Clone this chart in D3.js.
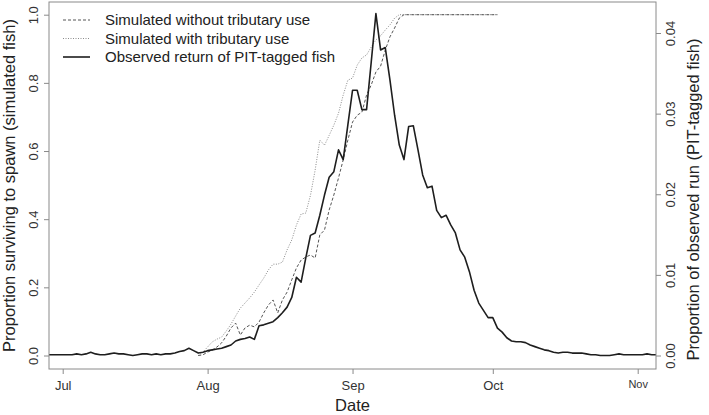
<!DOCTYPE html>
<html>
<head>
<meta charset="utf-8">
<script src="https://cdn.jsdelivr.net/npm/d3@7"></script>
<style>
    body { margin: 0; background: #fff; }
    text { font-family: "Liberation Sans", Arial, sans-serif; }
    .axis-title { font-size: 16.5px; fill: #222; }
    .tick-label { font-size: 13px; fill: #333; }
    .legend text { font-size: 15px; fill: #222; }
</style>
</head>
<body>
<div id="chart"></div>
<script>
// daily observed proportion of PIT-tagged run, Jun 28 .. Nov 5
const obsStart = Date.UTC(2013, 5, 28);
const observed = [
    0.0001, 0.0001, 0.0001, 0.0001, 0.0001, 0.0001, 0.0002, 0.0001, 0.0002,
    0.0004, 0.0002, 0.0001, 0.0001, 0.0002, 0.0003, 0.0002, 0.0002, 0.0001,
    0.0000, 0.0001, 0.0002, 0.0002, 0.0001, 0.0002, 0.0001, 0.0002, 0.0002,
    0.0003, 0.0005, 0.0006, 0.0009, 0.0006, 0.0003, 0.0004, 0.0006, 0.0007,
    0.0008, 0.0009, 0.0011, 0.0013, 0.0018, 0.0020, 0.0021, 0.0023, 0.0020,
    0.0037, 0.0038, 0.0040, 0.0042, 0.0047, 0.0053, 0.0060, 0.0072, 0.0097,
    0.0091, 0.0121, 0.0149, 0.0152, 0.0174, 0.0199, 0.0221, 0.0228, 0.0255,
    0.0243, 0.0286, 0.0329, 0.0329, 0.0305, 0.0305, 0.0364, 0.0424, 0.0379,
    0.0382, 0.0342, 0.0298, 0.0261, 0.0243, 0.0284, 0.0285, 0.0255, 0.0224,
    0.0208, 0.0210, 0.0180, 0.0171, 0.0174, 0.0162, 0.0152, 0.0131, 0.0122,
    0.0104, 0.0081, 0.0065, 0.0056, 0.0047, 0.0047, 0.0034, 0.0029, 0.0022,
    0.0018, 0.0017, 0.0017, 0.0016, 0.0013, 0.0011, 0.0009, 0.0007, 0.0006,
    0.0004, 0.0003, 0.0004, 0.0004, 0.0003, 0.0003, 0.0003, 0.0002, 0.0001,
    0.0001, 0.0000, 0.0000, 0.0000, 0.0001, 0.0002, 0.0001, 0.0001, 0.0001,
    0.0001, 0.0001, 0.0002, 0.0001, 0.0001
];

// cumulative proportion surviving to spawn, Jul 30 .. Oct 2
const simStart = Date.UTC(2013, 6, 30);
const simWithout = [
    0.000, 0.002, 0.010, 0.016, 0.025, 0.037, 0.057, 0.081, 0.095, 0.060,
    0.081, 0.089, 0.084, 0.098, 0.125, 0.148, 0.163, 0.125, 0.163, 0.186,
    0.222, 0.257, 0.280, 0.289, 0.295, 0.286, 0.354, 0.368, 0.427, 0.471,
    0.521, 0.574, 0.632, 0.685, 0.705, 0.714, 0.764, 0.794, 0.832, 0.849,
    0.896, 0.935, 0.961, 0.990, 1.000, 1.000, 1.000, 1.000, 1.000, 1.000,
    1.000, 1.000, 1.000, 1.000, 1.000, 1.000, 1.000, 1.000, 1.000, 1.000,
    1.000, 1.000, 1.000, 1.000, 1.000
];
const simWith = [
    0.000, 0.010, 0.025, 0.040, 0.048, 0.054, 0.072, 0.092, 0.116, 0.139,
    0.154, 0.169, 0.186, 0.207, 0.227, 0.251, 0.268, 0.268, 0.274, 0.310,
    0.339, 0.383, 0.415, 0.418, 0.470, 0.544, 0.632, 0.617, 0.646, 0.676,
    0.711, 0.764, 0.808, 0.814, 0.852, 0.873, 0.882, 0.905, 0.926, 0.938,
    0.955, 0.970, 0.990, 1.000, 1.000, 1.000, 1.000, 1.000, 1.000, 1.000,
    1.000, 1.000, 1.000, 1.000, 1.000, 1.000, 1.000, 1.000, 1.000, 1.000,
    1.000, 1.000, 1.000, 1.000, 1.000
];

const monthTicks = [Date.UTC(2013, 6, 1), Date.UTC(2013, 7, 1), Date.UTC(2013, 8, 1), Date.UTC(2013, 9, 1), Date.UTC(2013, 10, 1)];
const monthLabels = ["Jul", "Aug", "Sep", "Oct", "Nov"];
const leftTicks = [0, 0.2, 0.4, 0.6, 0.8, 1.0];
const rightTicks = [0, 0.01, 0.02, 0.03, 0.04];
const legendLabels = ["Simulated without tributary use", "Simulated with tributary use", "Observed return of PIT-tagged fish"];

const DAY = 86400000;
const toSeries = (start, arr) => arr.map((v, i) => ({ date: new Date(start + i * DAY), value: v }));

class ReturnChart {
    constructor(_parentElement) {
        this.parentElement = _parentElement;
        this.initVis();
    }

    initVis() {
        let vis = this;
        vis.margin = { top: 2, right: 53, bottom: 46, left: 49 };
        vis.width = 709 - vis.margin.left - vis.margin.right;
        vis.height = 415 - vis.margin.top - vis.margin.bottom;

        vis.svg = d3.select("#" + vis.parentElement).append("svg")
            .attr("width", 709)
            .attr("height", 415)
            .append("g")
            .attr("transform", "translate(" + vis.margin.left + "," + vis.margin.top + ")");

        // R-style padded scales
        vis.x = d3.scaleUtc()
            .domain([new Date(monthTicks[0]), new Date(monthTicks[4])])
            .range([13.7, 588.7]);
        vis.yLeft = d3.scaleLinear().domain([0, 1]).range([353.5, 12.7]);
        vis.yRight = d3.scaleLinear().domain([0, 0.04]).range([353.5, 31]);

        vis.svg.append("clipPath").attr("id", "plotclip")
            .append("rect").attr("width", vis.width).attr("height", vis.height);

        vis.wrangleData();
    }

    wrangleData() {
        let vis = this;
        vis.obs = toSeries(obsStart, observed);
        vis.without = toSeries(simStart, simWithout);
        vis.withTrib = toSeries(simStart, simWith);
        vis.updateVis();
    }

    updateVis() {
        let vis = this;
        const axisColor = "#8a8a8a";

        let lineLeft = d3.line().x(d => vis.x(d.date)).y(d => vis.yLeft(d.value));
        let lineRight = d3.line().x(d => vis.x(d.date)).y(d => vis.yRight(d.value));

        let plot = vis.svg.append("g").attr("clip-path", "url(#plotclip)");

        plot.append("path").datum(vis.withTrib)
            .attr("d", lineLeft)
            .attr("fill", "none")
            .attr("stroke", "#8c8c8c")
            .attr("stroke-width", 1)
            .attr("stroke-dasharray", "1,1.5");

        plot.append("path").datum(vis.without)
            .attr("d", lineLeft)
            .attr("fill", "none")
            .attr("stroke", "#555")
            .attr("stroke-width", 1)
            .attr("stroke-dasharray", "3,2");

        plot.append("path").datum(vis.obs)
            .attr("d", lineRight)
            .attr("fill", "none")
            .attr("stroke", "#1e1e1e")
            .attr("stroke-width", 1.6)
            .attr("stroke-linejoin", "round");

        // box
        vis.svg.append("rect")
            .attr("width", vis.width).attr("height", vis.height)
            .attr("fill", "none").attr("stroke", axisColor).attr("stroke-width", 1);

        // bottom axis
        let xAxis = d3.axisBottom(vis.x)
            .tickValues(monthTicks.map(t => new Date(t)))
            .tickFormat((d, i) => monthLabels[i])
            .tickSize(5).tickPadding(5);
        let gx = vis.svg.append("g")
            .attr("transform", "translate(0," + vis.height + ")")
            .call(xAxis);
        gx.select(".domain").remove();
        gx.selectAll("line").attr("stroke", axisColor);
        gx.selectAll("text").attr("class", "tick-label")
            .attr("font-family", null).attr("font-size", null)
            .attr("dy", "0.85em")
            .style("font-size", (d, i) => i === 4 ? "11px" : null);

        // left axis
        let gl = vis.svg.append("g")
            .call(d3.axisLeft(vis.yLeft).tickValues(leftTicks).tickFormat(d3.format(".1f")).tickSize(5));
        gl.select(".domain").remove();
        gl.selectAll("line").attr("stroke", axisColor);
        gl.selectAll("text").attr("class", "tick-label")
            .attr("font-family", null).attr("font-size", null)
            .attr("x", null).attr("dy", null)
            .attr("text-anchor", "middle")
            .attr("transform", "translate(-11.5,0) rotate(-90)");

        // right axis
        let gr = vis.svg.append("g")
            .attr("transform", "translate(" + vis.width + ",0)")
            .call(d3.axisRight(vis.yRight).tickValues(rightTicks).tickFormat(d3.format(".2f")).tickSize(5));
        gr.select(".domain").remove();
        gr.selectAll("line").attr("stroke", axisColor);
        gr.selectAll("text").attr("class", "tick-label")
            .attr("font-family", null).attr("font-size", null)
            .attr("x", null).attr("dy", null)
            .attr("text-anchor", "middle")
            .attr("transform", "translate(19,0) rotate(-90)");

        // axis titles
        vis.svg.append("text").attr("class", "axis-title")
            .attr("text-anchor", "middle")
            .attr("x", vis.width / 2).attr("y", 411 - vis.margin.top)
            .text("Date");

        vis.svg.append("text").attr("class", "axis-title")
            .attr("text-anchor", "middle")
            .attr("transform", "translate(" + (15 - vis.margin.left) + "," + (vis.height / 2) + ") rotate(-90)")
            .text("Proportion surviving to spawn (simulated fish)");

        vis.svg.append("text").attr("class", "axis-title")
            .attr("text-anchor", "middle")
            .attr("transform", "translate(" + (699 - vis.margin.left) + "," + (vis.height / 2 + 14) + ") rotate(-90)")
            .text("Proportion of observed run (PIT-tagged fish)");

        // legend
        let legend = vis.svg.append("g").attr("class", "legend")
            .attr("transform", "translate(14,18)");
        let styles = [
            { stroke: "#555", dash: "3,2", w: 1 },
            { stroke: "#8c8c8c", dash: "1,1.5", w: 1 },
            { stroke: "#1e1e1e", dash: null, w: 1.6 }
        ];
        legendLabels.forEach((lab, i) => {
            let row = legend.append("g").attr("transform", "translate(0," + (i * 18.5) + ")");
            row.append("line")
                .attr("x1", 0).attr("x2", 27)
                .attr("stroke", styles[i].stroke)
                .attr("stroke-width", styles[i].w)
                .attr("stroke-dasharray", styles[i].dash);
            row.append("text").attr("x", 42).attr("dy", "0.35em").text(lab);
        });
    }
}

new ReturnChart("chart");
</script>
</body>
</html>
